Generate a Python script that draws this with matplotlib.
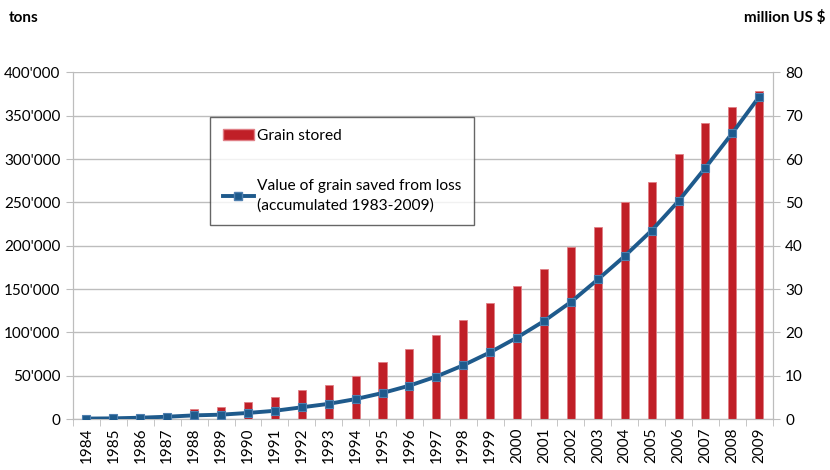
import matplotlib
matplotlib.use("Agg")
import matplotlib.pyplot as plt
from matplotlib.lines import Line2D
from matplotlib.patches import Patch
from matplotlib.ticker import FuncFormatter, MultipleLocator

plt.rcParams["font.family"] = ["Lato", "DejaVu Sans"]

years = list(range(1984, 2010))
grain_stored = [
    2500, 3500, 4500, 6000, 11600, 14300, 19300, 25100, 32900, 38700,
    49500, 65800, 80600, 96900, 114300, 133700, 154000, 173000, 199000,
    221000, 250000, 273000, 306000, 342000, 360500, 378000,
]
value_saved = [
    0.1, 0.15, 0.3, 0.53, 0.84, 1.0, 1.4, 1.9, 2.7, 3.5,
    4.6, 6.0, 7.7, 9.8, 12.4, 15.4, 18.8, 22.6, 27.0,
    32.2, 37.6, 43.5, 50.3, 58.0, 66.0, 74.4,
]

BAR_RED = "#C01F27"
LINE_BLUE = "#1E5A8C"
GRID = "#BDBDBD"

fig = plt.figure(figsize=(8.3, 4.7), dpi=100)
ax = fig.add_axes([0.088, 0.1085, 0.843, 0.7375])
ax2 = ax.twinx()

x = list(range(len(years)))
ax.bar(x, grain_stored, width=0.3, color=BAR_RED, edgecolor="#E07F86", linewidth=0.6, zorder=3)
ax2.plot(x, value_saved, color=LINE_BLUE, lw=2.8, marker="s", ms=5.5,
         mfc=LINE_BLUE, mec="#4F7FAF", mew=0.8, zorder=4)

ax.set_xlim(-0.5, len(years) - 0.5)
ax.set_ylim(0, 400000)
ax2.set_ylim(0, 80)

ax.yaxis.set_major_locator(MultipleLocator(50000))
ax.yaxis.set_major_formatter(FuncFormatter(lambda v, _: f"{int(v):,}".replace(",", "'")))
ax2.yaxis.set_major_locator(MultipleLocator(10))

ax.set_xticks(x)
ax.set_xticklabels([str(y) for y in years], rotation=90)
ax.set_xticks([i - 0.5 for i in range(len(years) + 1)], minor=True)
ax.tick_params(axis="x", which="major", length=0, pad=6, labelsize=11)
ax.tick_params(axis="x", which="minor", length=5, color=GRID)
ax.tick_params(axis="y", length=5, color=GRID, labelsize=11, pad=4)
ax2.tick_params(axis="y", length=5, color=GRID, labelsize=11, pad=4)

ax.grid(axis="y", color=GRID, lw=1.0, zorder=0)
ax.set_axisbelow(True)
for a in (ax, ax2):
    a.spines["top"].set_visible(False)
    for sp in ["left", "bottom", "right"]:
        a.spines[sp].set_color(GRID)

fig.text(0.01, 0.962, "tons", fontsize=11, fontweight="bold", ha="left", va="center")
fig.text(0.995, 0.962, "million US $", fontsize=11, fontweight="bold", ha="right", va="center")

handles = [
    Patch(facecolor=BAR_RED, edgecolor="#E07F86"),
    Line2D([0], [0], color=LINE_BLUE, lw=2.8, marker="s", ms=5.5, mfc=LINE_BLUE, mec="#4F7FAF"),
]
labels = ["Grain stored", "Value of grain saved from loss\n(accumulated 1983-2009)"]
leg = ax2.legend(handles, labels, loc="upper left", bbox_to_anchor=(0.196, 0.872),
                 borderaxespad=0, fontsize=11.2, frameon=True, fancybox=False,
                 labelspacing=2.3, handlelength=2.0, handletextpad=0.2, borderpad=0.8)
leg.get_frame().set_edgecolor("#404040")
leg.get_frame().set_linewidth(1.0)
for t in leg.get_texts():
    t.set_linespacing(1.45)

fig.savefig("out.png", dpi=100)
